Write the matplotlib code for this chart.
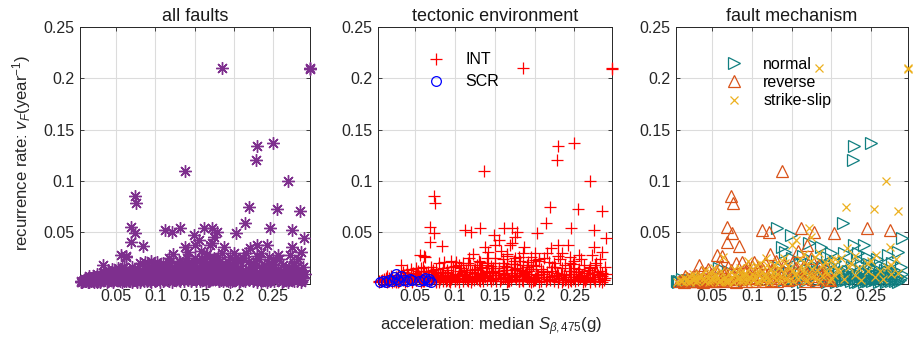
import numpy as np
import matplotlib
matplotlib.use("Agg")
import matplotlib.pyplot as plt
from matplotlib.lines import Line2D

plt.rcParams['font.family'] = ['Liberation Sans', 'DejaVu Sans']
plt.rcParams['mathtext.fontset'] = 'custom'
plt.rcParams['mathtext.rm'] = 'Liberation Sans'
plt.rcParams['mathtext.it'] = 'Liberation Sans:italic'

# (acceleration, recurrence rate), INT faults by mechanism
normal = [
    (0.2289, 0.134), (0.250, 0.137), (0.2276, 0.120), (0.2148, 0.059), (0.1318, 0.054),
    (0.1488, 0.047), (0.289, 0.044), (0.138, 0.036), (0.142, 0.031), (0.172, 0.039),
    (0.187, 0.036), (0.229, 0.0375), (0.242, 0.0375), (0.216, 0.030), (0.234, 0.030),
    (0.272, 0.028), (0.285, 0.031), (0.2765, 0.020), (0.250, 0.015), (0.150, 0.025),
    (0.160, 0.020), (0.195, 0.026), (0.205, 0.022), (0.245, 0.026), (0.262, 0.018),
    (0.282, 0.012), (0.058, 0.015), (0.070, 0.012), (0.133, 0.016), (0.178, 0.015),
    (0.210, 0.012), (0.238, 0.018),
    (0.165, 0.027), (0.182, 0.022), (0.200, 0.030), (0.218, 0.021), (0.232, 0.024),
    (0.248, 0.019), (0.258, 0.024), (0.270, 0.015), (0.288, 0.016), (0.190, 0.016),
    (0.008, 0.002), (0.015, 0.001), (0.022, 0.003), (0.030, 0.002), (0.045, 0.004),
    (0.090, 0.003), (0.115, 0.005), (0.128, 0.004), (0.136, 0.008), (0.141, 0.003),
    (0.147, 0.011), (0.152, 0.005), (0.157, 0.002), (0.162, 0.009), (0.167, 0.004),
    (0.171, 0.013), (0.176, 0.006), (0.181, 0.002), (0.186, 0.010), (0.191, 0.005),
    (0.196, 0.014), (0.200, 0.003), (0.204, 0.008), (0.208, 0.002), (0.212, 0.006),
    (0.216, 0.011), (0.219, 0.003), (0.222, 0.007), (0.225, 0.002), (0.228, 0.010),
    (0.231, 0.005), (0.234, 0.001), (0.237, 0.008), (0.240, 0.004), (0.243, 0.012),
    (0.246, 0.002), (0.249, 0.006), (0.252, 0.009), (0.255, 0.003), (0.258, 0.007),
    (0.261, 0.001), (0.264, 0.005), (0.267, 0.010), (0.270, 0.003), (0.273, 0.006),
    (0.276, 0.002), (0.279, 0.008), (0.282, 0.004), (0.285, 0.001), (0.288, 0.005),
    (0.226, 0.016), (0.256, 0.014), (0.268, 0.013), (0.198, 0.018), (0.174, 0.019),
    (0.244, 0.003), (0.262, 0.004), (0.215, 0.004), (0.195, 0.001), (0.165, 0.001),
    (0.005, 0.002), (0.011, 0.004), (0.018, 0.002), (0.026, 0.001), (0.035, 0.003),
    (0.202, 0.005), (0.206, 0.001), (0.210, 0.009), (0.214, 0.002), (0.218, 0.006),
    (0.221, 0.012), (0.224, 0.004), (0.227, 0.007), (0.230, 0.001), (0.233, 0.009),
    (0.236, 0.003), (0.239, 0.006), (0.242, 0.001), (0.245, 0.009), (0.248, 0.004),
    (0.251, 0.002), (0.254, 0.011), (0.257, 0.005), (0.260, 0.008), (0.263, 0.002),
    (0.266, 0.006), (0.269, 0.001), (0.272, 0.009), (0.275, 0.004), (0.278, 0.011),
    (0.281, 0.002), (0.284, 0.007), (0.287, 0.003), (0.290, 0.009), (0.180, 0.008),
    (0.184, 0.003), (0.189, 0.011), (0.193, 0.002), (0.160, 0.005), (0.155, 0.012),
]

reverse = [
    (0.1373, 0.1096), (0.0735, 0.085), (0.0756, 0.078), (0.0687, 0.0548), (0.0743, 0.049),
    (0.0687, 0.040), (0.084, 0.0365), (0.056, 0.028), (0.062, 0.027), (0.033, 0.018),
    (0.1126, 0.052), (0.121, 0.0505), (0.1616, 0.0538), (0.1786, 0.0505), (0.2033, 0.049),
    (0.2458, 0.0538), (0.2744, 0.052), (0.123, 0.029), (0.080, 0.020), (0.087, 0.021),
    (0.102, 0.021), (0.117, 0.020), (0.1692, 0.038), (0.158, 0.032), (0.130, 0.022),
    (0.095, 0.016), (0.045, 0.014), (0.140, 0.018),
    (0.090, 0.013), (0.100, 0.017), (0.126, 0.014), (0.150, 0.020), (0.165, 0.016),
    (0.175, 0.025), (0.185, 0.018), (0.195, 0.014), (0.070, 0.016), (0.035, 0.011),
    (0.012, 0.003), (0.018, 0.005), (0.024, 0.002), (0.029, 0.008), (0.035, 0.004),
    (0.040, 0.010), (0.046, 0.002), (0.050, 0.007), (0.054, 0.012), (0.059, 0.003),
    (0.064, 0.009), (0.068, 0.005), (0.073, 0.013), (0.077, 0.002), (0.082, 0.008),
    (0.086, 0.004), (0.091, 0.011), (0.096, 0.006), (0.100, 0.002), (0.105, 0.009),
    (0.110, 0.004), (0.114, 0.013), (0.119, 0.007), (0.124, 0.003), (0.129, 0.010),
    (0.134, 0.005), (0.139, 0.012), (0.145, 0.003), (0.151, 0.008), (0.156, 0.015),
    (0.163, 0.005), (0.170, 0.010), (0.177, 0.004), (0.184, 0.012), (0.192, 0.006),
    (0.199, 0.003), (0.060, 0.016), (0.108, 0.015),
    (0.008, 0.002), (0.015, 0.007), (0.021, 0.004), (0.027, 0.002), (0.032, 0.006),
    (0.038, 0.001), (0.043, 0.005), (0.048, 0.009), (0.052, 0.003), (0.057, 0.006),
    (0.062, 0.002), (0.066, 0.011), (0.071, 0.004), (0.075, 0.007), (0.080, 0.001),
    (0.084, 0.010), (0.088, 0.005), (0.093, 0.002), (0.098, 0.008), (0.103, 0.005),
    (0.112, 0.008), (0.117, 0.002), (0.122, 0.011), (0.127, 0.005), (0.132, 0.002),
    (0.137, 0.007), (0.143, 0.010), (0.148, 0.004), (0.160, 0.008), (0.167, 0.002),
    (0.174, 0.007), (0.181, 0.002), (0.188, 0.009), (0.196, 0.004),
]

strike_slip = [
    (0.185, 0.2097), (0.297, 0.2097), (0.2965, 0.2095), (0.269, 0.0999), (0.219, 0.0743),
    (0.2544, 0.0723), (0.284, 0.0707), (0.172, 0.054), (0.274, 0.036), (0.256, 0.028),
    (0.276, 0.018), (0.200, 0.023), (0.063, 0.026), (0.166, 0.029), (0.150, 0.038),
    (0.140, 0.025), (0.185, 0.030), (0.230, 0.027), (0.110, 0.020), (0.155, 0.042),
    (0.175, 0.045), (0.220, 0.035), (0.282, 0.024), (0.245, 0.020), (0.128, 0.018),
    (0.085, 0.015), (0.095, 0.022), (0.105, 0.018), (0.118, 0.025), (0.132, 0.021),
    (0.145, 0.017), (0.160, 0.024), (0.170, 0.019), (0.180, 0.026), (0.192, 0.021),
    (0.202, 0.017), (0.212, 0.025), (0.225, 0.020), (0.235, 0.015), (0.250, 0.022),
    (0.262, 0.012), (0.270, 0.016), (0.285, 0.010), (0.040, 0.013), (0.052, 0.015),
    (0.012, 0.002), (0.018, 0.004), (0.022, 0.001), (0.027, 0.006), (0.031, 0.003),
    (0.036, 0.008), (0.040, 0.002), (0.044, 0.005), (0.048, 0.010), (0.052, 0.003),
    (0.055, 0.007), (0.058, 0.001), (0.061, 0.012), (0.064, 0.004), (0.068, 0.002),
    (0.071, 0.009), (0.074, 0.005), (0.077, 0.014), (0.080, 0.003), (0.083, 0.006),
    (0.086, 0.011), (0.089, 0.002), (0.092, 0.008), (0.095, 0.004), (0.098, 0.016),
    (0.101, 0.003), (0.104, 0.007), (0.107, 0.012), (0.110, 0.002), (0.113, 0.005),
    (0.116, 0.009), (0.119, 0.018), (0.122, 0.004), (0.126, 0.010), (0.130, 0.003),
    (0.134, 0.015), (0.138, 0.006), (0.142, 0.020), (0.146, 0.002), (0.150, 0.012),
    (0.154, 0.008), (0.158, 0.004), (0.162, 0.017), (0.166, 0.010), (0.170, 0.003),
    (0.174, 0.022), (0.178, 0.007), (0.182, 0.013), (0.186, 0.002), (0.190, 0.018),
    (0.195, 0.009), (0.200, 0.005), (0.205, 0.024), (0.210, 0.011), (0.216, 0.004),
    (0.222, 0.016), (0.230, 0.008), (0.238, 0.003), (0.246, 0.012), (0.255, 0.006),
    (0.265, 0.004), (0.275, 0.009),
    (0.005, 0.001), (0.009, 0.003), (0.014, 0.005), (0.016, 0.002), (0.020, 0.007),
    (0.025, 0.003), (0.029, 0.001), (0.033, 0.005), (0.038, 0.004), (0.042, 0.007),
    (0.046, 0.001), (0.050, 0.004), (0.053, 0.009), (0.057, 0.005), (0.060, 0.002),
    (0.066, 0.006), (0.070, 0.003), (0.073, 0.011), (0.076, 0.001), (0.079, 0.008),
    (0.082, 0.004), (0.085, 0.002), (0.088, 0.007), (0.091, 0.010), (0.094, 0.001),
    (0.097, 0.006), (0.100, 0.009), (0.103, 0.004), (0.106, 0.001), (0.109, 0.008),
    (0.112, 0.011), (0.115, 0.003), (0.118, 0.006), (0.121, 0.001), (0.124, 0.013),
    (0.128, 0.006), (0.132, 0.009), (0.136, 0.002), (0.140, 0.011), (0.144, 0.005),
    (0.148, 0.015), (0.152, 0.002), (0.156, 0.010), (0.160, 0.006), (0.164, 0.013),
    (0.168, 0.002), (0.172, 0.008), (0.176, 0.014), (0.180, 0.004), (0.188, 0.007),
    (0.193, 0.012), (0.198, 0.002), (0.203, 0.008), (0.208, 0.014),
]

# stable continental region faults
scr = [
    (0.006, 0.001), (0.010, 0.002), (0.014, 0.001), (0.018, 0.003), (0.021, 0.002),
    (0.024, 0.006), (0.026, 0.009), (0.028, 0.004), (0.030, 0.002), (0.033, 0.007),
    (0.036, 0.003), (0.040, 0.002), (0.044, 0.004), (0.047, 0.003), (0.055, 0.002),
    (0.060, 0.003), (0.063, 0.005), (0.066, 0.002), (0.068, 0.004), (0.070, 0.001),
]
scr_mech = ['N', 'S', 'R', 'N', 'S', 'R', 'S', 'S', 'R', 'S',
            'R', 'S', 'R', 'S', 'R', 'S', 'R', 'S', 'R', 'S']

titles = ['all faults', 'tectonic environment', 'fault mechanism']
xticks = [0.05, 0.1, 0.15, 0.2, 0.25]
yticks = [0.05, 0.1, 0.15, 0.2, 0.25]

purple = '#7E2F8E'
teal = '#117f80'
orange = '#D95319'
yellow = '#EDB120'

nor = np.array(normal).T
rev = np.array(reverse).T
ss = np.array(strike_slip).T
sc = np.array(scr).T
mech = np.array(scr_mech)

int_x = np.concatenate([nor[0], rev[0], ss[0]])
int_y = np.concatenate([nor[1], rev[1], ss[1]])
all_x = np.concatenate([int_x, sc[0]])
all_y = np.concatenate([int_y, sc[1]])

fig = plt.figure(figsize=(9.17, 3.45), dpi=100)
W, H = 917, 345
boxes = [(80, 310), (378, 612), (676, 908)]
axes = []
for (l, r), t in zip(boxes, titles):
    ax = fig.add_axes([l / W, (H - 283.5) / H, (r - l) / W, 256.5 / H])
    ax.set_xlim(0.004, 0.297)
    ax.set_ylim(0, 0.25)
    ax.set_xticks(xticks)
    ax.set_xticklabels(['0.05', '0.1', '0.15', '0.2', '0.25'])
    ax.set_yticks(yticks)
    ax.set_yticklabels(['0.05', '0.1', '0.15', '0.2', '0.25'])
    ax.grid(True, color='#dcdcdc', linewidth=0.8)
    ax.set_axisbelow(True)
    ax.tick_params(direction='in', length=3, width=0.6, labelsize=11.5,
                   colors='#262626', top=True, right=True, pad=4)
    for s in ax.spines.values():
        s.set_color('#262626')
        s.set_linewidth(0.7)
    ax.set_title(t, fontsize=13, color='#1a1a1a', pad=4)
    axes.append(ax)

ax1, ax2, ax3 = axes

ax1.plot(all_x, all_y, ls='none', marker=(8, 2, 0), ms=9, mec=purple, mew=1.0,
         clip_on=False, zorder=3)

ax2.plot(int_x, int_y, ls='none', marker='+', ms=9, mec='#ff0000', mew=0.9,
         clip_on=False, zorder=3)
ax2.plot(sc[0], sc[1], ls='none', marker='o', ms=7, mfc='none', mec='#0000ff', mew=0.9,
         clip_on=False, zorder=3)
h2 = [Line2D([], [], ls='none', marker='+', ms=9, mec='#ff0000', mew=0.9),
      Line2D([], [], ls='none', marker='o', ms=7, mfc='none', mec='#0000ff', mew=0.9)]
ax2.legend(h2, ['INT', 'SCR'], loc='upper left', bbox_to_anchor=(0.10, 0.958),
           frameon=False, fontsize=11.5, handlelength=2.5, handletextpad=0.6,
           labelspacing=0.45)

n_x = np.concatenate([nor[0], sc[0][mech == 'N']])
n_y = np.concatenate([nor[1], sc[1][mech == 'N']])
r_x = np.concatenate([rev[0], sc[0][mech == 'R']])
r_y = np.concatenate([rev[1], sc[1][mech == 'R']])
s_x = np.concatenate([ss[0], sc[0][mech == 'S']])
s_y = np.concatenate([ss[1], sc[1][mech == 'S']])
ax3.plot(n_x, n_y, ls='none', marker='>', ms=9, mfc='none', mec=teal, mew=0.9,
         clip_on=False, zorder=3)
ax3.plot(r_x, r_y, ls='none', marker='^', ms=9, mfc='none', mec=orange, mew=0.9,
         clip_on=False, zorder=3)
ax3.plot(s_x, s_y, ls='none', marker='x', ms=6, mec=yellow, mew=0.9,
         clip_on=False, zorder=3)
h3 = [Line2D([], [], ls='none', marker='>', ms=9, mfc='none', mec=teal, mew=0.9),
      Line2D([], [], ls='none', marker='^', ms=9, mfc='none', mec=orange, mew=0.9),
      Line2D([], [], ls='none', marker='x', ms=6, mec=yellow, mew=0.9)]
ax3.legend(h3, ['normal', 'reverse', 'strike-slip'], loc='upper left',
           bbox_to_anchor=(0.10, 0.94), frameon=False, fontsize=11.5,
           handlelength=2.5, handletextpad=0.6, labelspacing=0.2)

fig.text(22 / W, 1 - 153 / H, r'recurrence rate: $v_F$(year$^{-1}$)', rotation=90,
         ha='center', va='center', fontsize=12, color='#262626')
fig.text(491 / W, 1 - 327 / H, r'acceleration: median $S_{\beta,475}$(g)',
         ha='center', va='center', fontsize=12, color='#262626')

fig.savefig('out.png', dpi=100)
